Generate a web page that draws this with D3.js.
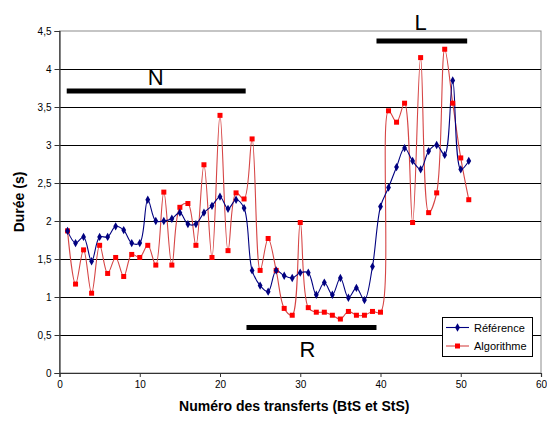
<!DOCTYPE html>
<html><head><meta charset="utf-8">
<script src="https://cdn.jsdelivr.net/npm/d3@7/dist/d3.min.js"></script>
<style>body{margin:0;background:#fff}svg{display:block;font-family:"Liberation Sans",Arial,sans-serif}</style>
</head><body><svg id="c" width="547" height="422"></svg>
<script>
const transfers = [1,2,3,4,5,6,7,8,9,10,11,12,13,14,15,16,17,18,19,20,21,22,23,24,25,26,27,28,29,30,31,32,33,34,35,36,37,38,39,40,41,42,43,44,45,46,47,48,49,50,51];
const reference = [1.87,1.71,1.79,1.47,1.79,1.79,1.93,1.88,1.71,1.71,2.28,2.00,2.00,2.03,2.11,1.96,1.96,2.11,2.20,2.32,2.16,2.28,2.17,1.35,1.15,1.07,1.35,1.28,1.25,1.32,1.32,1.03,1.19,1.03,1.25,0.99,1.12,0.96,1.40,2.19,2.44,2.71,2.96,2.79,2.68,2.92,3.00,2.87,3.85,2.68,2.79];
const algorithme = [1.87,1.17,1.62,1.05,1.68,1.31,1.52,1.27,1.56,1.52,1.68,1.42,2.38,1.42,2.18,2.23,1.68,2.74,1.52,3.39,1.61,2.37,2.29,3.08,1.35,1.77,1.35,0.85,0.76,1.98,0.86,0.80,0.80,0.76,0.71,0.81,0.76,0.76,0.81,0.80,3.45,3.30,3.55,1.98,4.15,2.11,2.37,4.26,3.55,2.83,2.28];
const seriesNames = ["Référence","Algorithme"];
const xTicks = [0,10,20,30,40,50,60];
const yTicks = [0,0.5,1,1.5,2,2.5,3,3.5,4,4.5];
const xTitle = "Numéro des transferts (BtS et StS)";
const yTitle = "Durée (s)";
const segLabels = ["N","R","L"];
const segX0 = [0.9,23.3,39.5];
const segX1 = [23.2,39.5,50.8];
const segY = [3.71,0.6,4.37];
const segLabelX = [12,30.9,45];
const segLabelY = [3.79,0.21,4.51];

const svg = d3.select("#c");
const L = 59.5, R = 541, T = 31, B = 373;
const x = d3.scaleLinear().domain([0,60]).range([L,R]);
const y = d3.scaleLinear().domain([0,4.5]).range([B,T]);
const fmt = d => String(d).replace(".", ",");

// plot border (gray)
svg.append("rect").attr("x",L).attr("y",T).attr("width",R-L).attr("height",B-T)
  .attr("fill","#fff").attr("stroke","#8c8c8c").attr("stroke-width",1);
// gridlines
svg.append("g").selectAll("line").data(yTicks.filter(d=>d>0 && d<4.5)).join("line")
  .attr("x1",L).attr("x2",R).attr("y1",d=>Math.round(y(d))+0.5).attr("y2",d=>Math.round(y(d))+0.5)
  .attr("stroke","#000").attr("stroke-width",1);

// axes
const xAxis = svg.append("g").attr("transform",`translate(0,${B})`)
  .call(d3.axisBottom(x).tickValues(xTicks).tickSize(4).tickPadding(4).tickFormat(d3.format("d")));
const yAxis = svg.append("g").attr("transform",`translate(${L},0)`)
  .call(d3.axisLeft(y).tickValues(yTicks).tickSize(5).tickPadding(3).tickFormat(fmt));
[xAxis,yAxis].forEach(g=>{
  g.select(".domain").attr("stroke","#333").attr("stroke-width",1.2);
  g.selectAll(".tick line").attr("stroke","#333");
  g.selectAll("text").attr("font-size",10).attr("fill","#000").attr("font-family","'Liberation Sans',Arial,sans-serif");
});

// titles
svg.append("text").attr("x",(L+R)/2-6).attr("y",411).attr("text-anchor","middle")
  .attr("font-size",14).attr("font-weight","bold").text(xTitle);
svg.append("text").attr("transform",`translate(24,${(T+B)/2}) rotate(-90)`).attr("text-anchor","middle")
  .attr("font-size",14).attr("font-weight","bold").text(yTitle);

// segment bars
segLabels.forEach((lab,i)=>{
  svg.append("line").attr("x1",x(segX0[i])).attr("x2",x(segX1[i])).attr("y1",y(segY[i])).attr("y2",y(segY[i]))
    .attr("stroke","#000").attr("stroke-width",5);
  svg.append("text").attr("x",x(segLabelX[i])).attr("y",y(segLabelY[i])).attr("text-anchor","middle")
    .attr("font-size",22).text(lab);
});

// series
const curve = d3.curveCatmullRom.alpha(0.5);
const line = vals => d3.line().x((d,i)=>x(transfers[i])).y(d=>y(d)).curve(curve)(vals);
svg.append("path").attr("d",line(algorithme)).attr("fill","none").attr("stroke","#d64545").attr("stroke-width",1.1);
svg.append("path").attr("d",line(reference)).attr("fill","none").attr("stroke","#000080").attr("stroke-width",1.1);

svg.append("g").selectAll("rect").data(algorithme).join("rect")
  .attr("x",(d,i)=>x(transfers[i])-2.5).attr("y",d=>y(d)-2.5).attr("width",5).attr("height",5).attr("fill","#ff0000");
svg.append("g").selectAll("path").data(reference).join("path")
  .attr("transform",(d,i)=>`translate(${x(transfers[i])},${y(d)})`).attr("d",d3.symbol().type(d3.symbolDiamond).size(20)()).attr("fill","#000080");

// legend
const lg = svg.append("g");
lg.append("rect").attr("x",442.5).attr("y",317.5).attr("width",90).attr("height",39).attr("fill","#fff").attr("stroke","#000");
const colors = ["#000080","#d64545"];
seriesNames.forEach((n,i)=>{
  const yy = 327.5 + i*18.5;
  lg.append("line").attr("x1",446).attr("x2",469).attr("y1",yy).attr("y2",yy).attr("stroke",colors[i]).attr("stroke-width",1.1);
  if(i===0) lg.append("path").attr("transform",`translate(457.5,${yy})`).attr("d",d3.symbol().type(d3.symbolDiamond).size(20)()).attr("fill","#000080");
  else lg.append("rect").attr("x",455).attr("y",yy-2.5).attr("width",5).attr("height",5).attr("fill","#ff0000");
  lg.append("text").attr("x",474).attr("y",yy+4).attr("font-size",11).text(n);
});
</script></body></html>
